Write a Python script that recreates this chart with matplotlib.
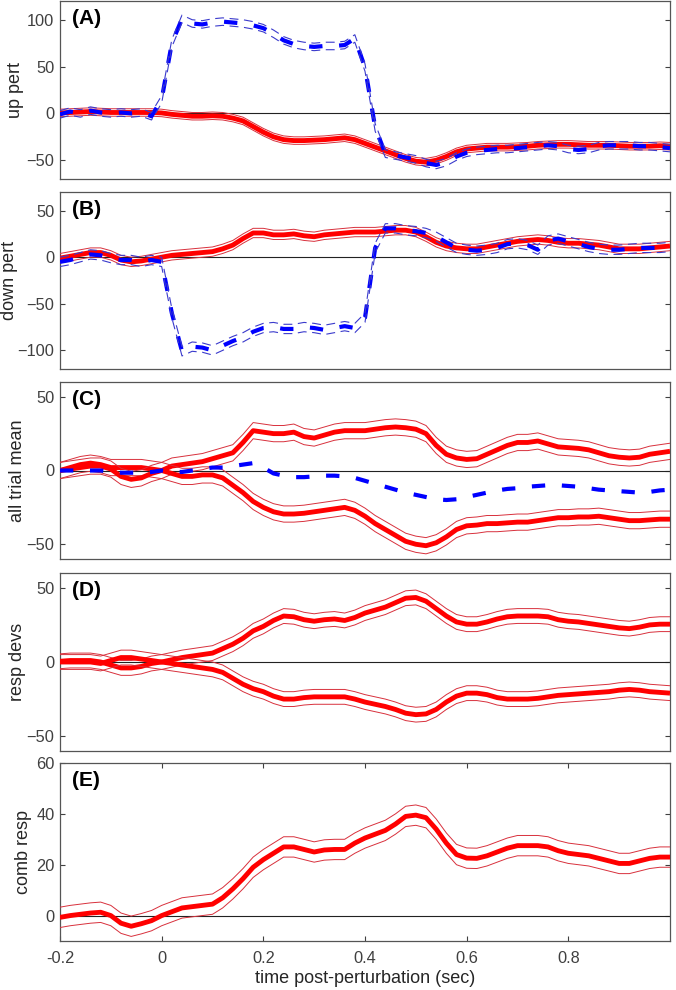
#!/usr/bin/env python3
"""Five stacked pitch-response panels (up/down perturbation, trial means,
response deviations, combined response), redrawn in MATLAB style."""
import numpy as np
import matplotlib
matplotlib.use("Agg")
import matplotlib.pyplot as plt

plt.rcParams.update({
    "font.family": ["Liberation Sans", "DejaVu Sans"],
    "font.size": 11,
    "xtick.direction": "in",
    "ytick.direction": "in",
    "xtick.major.size": 3.5,
    "ytick.major.size": 3.5,
    "xtick.color": "#404040",
    "ytick.color": "#404040",
    "xtick.labelcolor": "#404040",
    "ytick.labelcolor": "#404040",
    "axes.edgecolor": "#555555",
    "axes.linewidth": 0.9,
})

# time axis (sec), 0.02 s steps from -0.2 to 1.0
time = np.round(np.arange(61) * 0.02 - 0.2, 2)

# (A) up perturbation: response (red) and perturbation (blue)
up_resp = [0.5, 1, 1.5, 2, 1.5, 1, 1, 1, 1, 1, 0.5,
           -1, -2, -3, -3, -2.5, -3, -5, -8, -14, -20,
           -25, -28, -29, -29, -28.5, -28, -27, -26, -28, -32,
           -36, -40, -44, -48, -51, -52, -50, -46, -41, -38,
           -37, -36, -36, -36, -35.5, -35, -34, -33.5, -33, -33,
           -33.5, -34, -34, -34, -34.5, -35, -35, -35, -34.5, -35]
up_pert = [-1, 2, 0, 3, 1, 0, 1, 0, 1, -3, 15,
           75, 101, 96, 95, 97, 98, 97, 96, 94, 91,
           85, 78, 74, 72, 71, 72, 72, 73, 80, 49,
           -15, -43, -45, -47, -49, -53, -55, -52, -46, -42,
           -40, -39, -38, -38, -37, -36, -35, -34, -35, -38,
           -39, -38, -35, -34, -34, -34, -35, -35, -36, -37]

# (B) down perturbation
down_resp = [-1, 1, 3, 5, 5, 2, -3, -5, -4, -2, 0,
             2, 3, 4, 5, 6, 9, 13, 20, 26, 26,
             24, 24, 25, 23, 22, 24, 25, 26, 27, 27,
             27, 28, 29, 29, 27, 22, 16, 12, 10, 9,
             9, 11, 13, 15, 17, 18, 19, 18, 16, 15,
             15, 14, 13, 11, 9, 9, 9, 10, 11, 12]
down_pert = [-5, -3, 0, 3, 2, -1, -3, -3, -5, -3, -5,
             -60, -101, -96, -97, -100, -95, -90, -86, -80, -76,
             -75, -77, -77, -75, -76, -78, -76, -74, -76, -65,
             10, 31, 31, 29, 28, 26, 22, 16, 10, 8,
             7, 8, 10, 14, 15, 13, 8, 18, 20, 17,
             14, 11, 9, 8, 8, 9, 10, 10, 10, 11]

# (C) all trial mean
mean_down = [0, 2, 4, 5, 4, 2, 2, 2, 2, 1, 0,
             3, 4, 5, 6, 8, 10, 12, 19, 27, 26,
             25, 25, 26, 23, 22, 24, 26, 27, 27, 27,
             28, 29, 29.5, 29, 28, 25, 17, 11, 8.5, 7.5,
             8, 11, 14, 17, 19, 19, 20, 18, 16, 15.5,
             15, 14, 12, 10, 9, 8.5, 9, 11, 12, 13]
mean_up = [0, 1, 2, 3, 3, 1, -4, -6, -5, -2, 0,
           -2, -4, -4, -3, -3, -5, -10, -15, -21, -25,
           -28, -29.5, -29.5, -29, -28, -27, -26, -25, -27, -31,
           -36, -40, -44, -48, -50, -51, -49, -45, -40, -37.5,
           -37, -36, -36, -35.5, -35, -35, -34, -33, -32, -32,
           -31.5, -31.5, -31, -32, -33, -34, -34, -33.5, -33, -33]
mean_pert = [0, 0, 0, 0, 0, -1, -1.5, -1.5, -1.5, -1, 0,
             -1, -1, 0, 1, 2, 2, 3, 4, 5, 2,
             -2, -3.5, -4.5, -4.5, -4, -3.5, -3.5, -4, -5, -7,
             -9, -11, -13, -15, -16.5, -18, -19.5, -20, -19.5, -18,
             -16.5, -15, -13.5, -12.5, -12, -11, -10.5, -10, -10, -10.5,
             -11, -12, -13, -13.5, -14, -14.5, -15, -14.5, -13.5, -13]

# (D) response deviations
dev_pos = [0.5, 1, 1, 1, 0, -2, -4, -4, -3, -1, 0,
           1.5, 3, 4, 5, 6, 9, 12, 16, 21, 24,
           28, 31, 30.5, 28.5, 27.5, 28.5, 29, 28, 30, 33,
           35, 37, 40, 43, 43.5, 41, 36, 31, 27, 25.5,
           25.5, 27, 29, 30.5, 31, 31, 31, 30.5, 28.5, 27.5,
           27, 26, 25, 24, 23, 22.5, 23.5, 25, 25.5, 25.5]
dev_neg = [0, 0, 0, 0, -1, 1, 3, 3, 2, 1, 0,
           -1, -2, -3, -4, -5, -7, -11, -15, -18, -20,
           -23, -25, -25, -24, -23.5, -23.5, -23.5, -23.5, -25, -27,
           -28.5, -30, -32, -34.5, -35.5, -35, -32, -27, -23, -21,
           -21, -22, -24, -25, -25, -25, -24.5, -23.5, -22.5, -22,
           -21.5, -21, -20.5, -20, -19, -18.5, -19, -20, -20.5, -21]

# (E) combined response
comb = [-0.7, 0, 0.5, 1, 1.3, 0, -3, -4.2, -3.2, -2, 0,
        1.5, 3, 3.5, 4, 4.5, 7, 10.5, 14.5, 19, 22,
        24.5, 27, 27, 26, 25, 25.8, 26, 26, 28.5, 30.5,
        32, 33.5, 36, 39, 39.5, 38.5, 34, 28.5, 24, 22.6,
        22.5, 23.5, 25, 26.5, 27.5, 27.5, 27.5, 27, 25.5, 24.5,
        24, 23.5, 22.5, 21.5, 20.5, 20.5, 21.5, 22.5, 23, 23]

# half-widths of the error bands
se_A_resp, se_A_pert = 4, 4
se_B_resp, se_B_pert = 5, 5
se_C = 5.5
se_D = 5
se_E = 4

panel_labels = ["(A)", "(B)", "(C)", "(D)", "(E)"]
ylabels = ["up pert", "down pert", "all trial mean", "resp devs", "comb resp"]
ylims = [(-70, 120), (-120, 70), (-60, 60), (-60, 60), (-10, 60)]
yticks = [[-50, 0, 50, 100], [-100, -50, 0, 50], [-50, 0, 50], [-50, 0, 50],
          [0, 20, 40, 60]]
xticks = [-0.2, 0, 0.2, 0.4, 0.6, 0.8]
xticklabels = ["-0.2", "0", "0.2", "0.4", "0.6", "0.8"]

RED = "#ff0000"
RED_THIN = "#d8303c"
BLUE = "#0000ff"
BLUE_THIN = "#3a3acc"

W, H = 676, 990
# right edge (figure px) of each rotated y label, as in the original
ylabel_right_px = [24, 18, 26, 26, 32]


def red_trace(ax, y, se):
    y = np.asarray(y, dtype=float)
    ax.plot(time, y, color=RED, lw=3.5, solid_capstyle="butt", zorder=3)
    ax.plot(time, y + se, color=RED_THIN, lw=0.7, zorder=3)
    ax.plot(time, y - se, color=RED_THIN, lw=0.7, zorder=3)


def blue_trace(ax, y, se=None):
    y = np.asarray(y, dtype=float)
    ax.plot(time, y, color=BLUE, lw=3.0, ls=(0, (3.2, 4.0)), zorder=4)
    if se is not None:
        ax.plot(time, y + se, color=BLUE_THIN, lw=0.8, ls=(0, (8, 5)), zorder=4)
        ax.plot(time, y - se, color=BLUE_THIN, lw=0.8, ls=(0, (8, 5)), zorder=4)


fig = plt.figure(figsize=(W / 100, H / 100), dpi=100)
left, width = 60 / W, 610 / W
tops = [1, 192, 382, 573, 763]
heights = [178, 177, 177, 178, 178]

axes = []
for i in range(5):
    bottom = 1 - (tops[i] + heights[i]) / H
    ax = fig.add_axes([left, bottom, width, heights[i] / H])
    axes.append(ax)

red_trace(axes[0], up_resp, se_A_resp)
blue_trace(axes[0], up_pert, se_A_pert)
red_trace(axes[1], down_resp, se_B_resp)
blue_trace(axes[1], down_pert, se_B_pert)
red_trace(axes[2], mean_down, se_C)
red_trace(axes[2], mean_up, se_C)
blue_trace(axes[2], mean_pert)
red_trace(axes[3], dev_pos, se_D)
red_trace(axes[3], dev_neg, se_D)
red_trace(axes[4], comb, se_E)

for i, ax in enumerate(axes):
    ax.axhline(0, color="#222222", lw=0.8, zorder=2)
    ax.set_xlim(-0.2, 1.0)
    ax.set_ylim(*ylims[i])
    ax.set_yticks(yticks[i])
    ax.tick_params(axis="both", labelsize=11.8, right=True, top=True, pad=4)
    ax.tick_params(axis="x", pad=7)
    ax.set_ylabel(ylabels[i], fontsize=13, color="#262626")
    ax.yaxis.set_label_coords((ylabel_right_px[i] - 60) / 610, 0.5)
    ax.text(0.02, 0.9, panel_labels[i], transform=ax.transAxes,
            fontsize=15, fontweight="bold", color="black",
            ha="left", va="center", zorder=5)
    if i < 4:
        ax.set_xticks([])
    else:
        ax.set_xticks(xticks)
        ax.set_xticklabels(xticklabels)
        ax.set_xlabel("time post-perturbation (sec)", fontsize=13,
                      color="#262626", labelpad=3)

fig.savefig("out.png", dpi=100, facecolor="white")
